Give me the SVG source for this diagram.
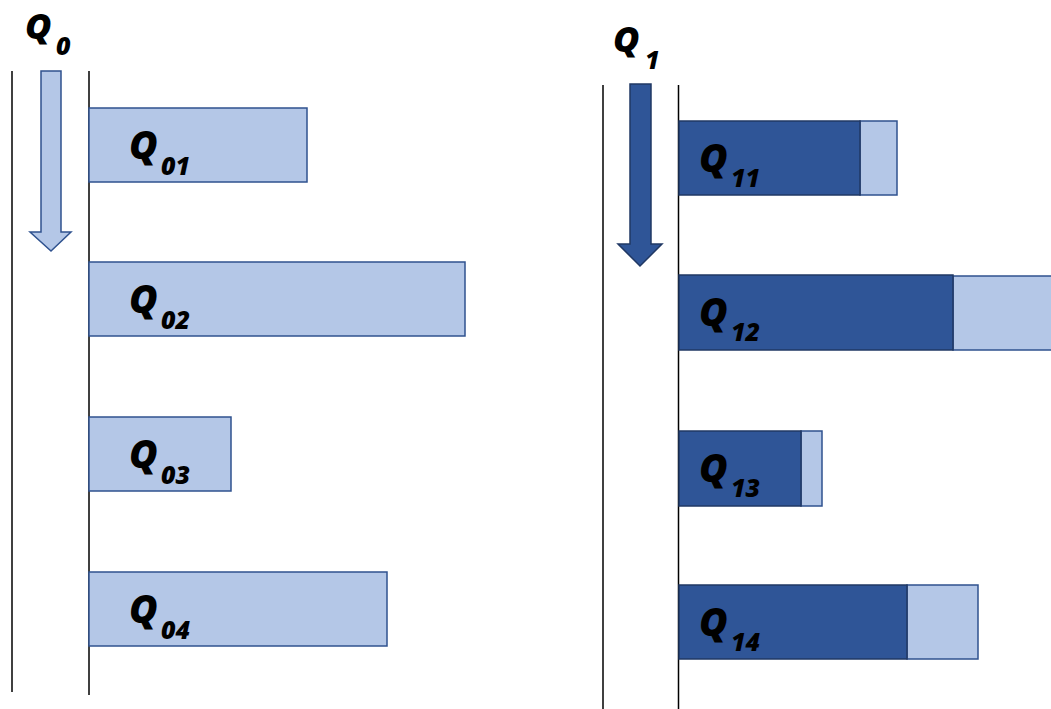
<svg xmlns="http://www.w3.org/2000/svg" width="1051" height="709" viewBox="0 0 1051 709">
<style>
.light{fill:#B4C7E7;stroke:#2F528F;stroke-width:1.5}
.dark{fill:#2F5597;stroke:#203864;stroke-width:1.5}
.axis{stroke:#000;stroke-width:1.5;fill:none}
.lbl{font-family:"Open Sans","Liberation Sans",Arial,sans-serif;font-weight:800;font-style:italic;font-size:39px;fill:#000}
.ttl{font-size:36px}
.sub{font-size:25px}
</style>
<rect width="1051" height="709" fill="#fff"/>
<g id="axes">
<line class="axis" x1="12" y1="71" x2="12" y2="692"/>
<line class="axis" x1="89" y1="71" x2="89" y2="695"/>
<line class="axis" x1="603" y1="85" x2="603" y2="709"/>
<line class="axis" x1="678.5" y1="85" x2="678.5" y2="709"/>
</g>
<g id="connectors">
<polygon class="light" points="41,71 61,71 61,232 71,232 51,251 30,232 41,232"/>
<polygon class="dark" points="630,84 651,84 651,244 662,244 640,266 618,244 630,244"/>
</g>
<g id="title-Q0"><text class="lbl ttl" x="25" y="39">Q<tspan class="sub" x="56" y="55">0</tspan></text></g>
<g id="title-Q1"><text class="lbl ttl" x="613" y="52">Q<tspan class="sub" x="645" y="69">1</tspan></text></g>
<g id="Q01"><rect class="light" x="89" y="108" width="218" height="74"/><text class="lbl" x="129" y="159">Q<tspan class="sub" x="161" y="175">01</tspan></text></g>
<g id="Q02"><rect class="light" x="89" y="262" width="376" height="74"/><text class="lbl" x="129" y="313">Q<tspan class="sub" x="161" y="329">02</tspan></text></g>
<g id="Q03"><rect class="light" x="89" y="417" width="142" height="74"/><text class="lbl" x="129" y="468">Q<tspan class="sub" x="161" y="484">03</tspan></text></g>
<g id="Q04"><rect class="light" x="89" y="572" width="298" height="74"/><text class="lbl" x="129" y="623">Q<tspan class="sub" x="161" y="639">04</tspan></text></g>
<g id="Q11"><rect class="light" x="860" y="121" width="37" height="74"/><rect class="dark" x="679" y="121" width="181" height="74"/><text class="lbl" x="699" y="172">Q<tspan class="sub" x="731" y="187">11</tspan></text></g>
<g id="Q12"><rect class="light" x="953" y="276" width="100" height="74"/><rect class="dark" x="679" y="275" width="274" height="75"/><text class="lbl" x="699" y="326">Q<tspan class="sub" x="731" y="341">12</tspan></text></g>
<g id="Q13"><rect class="light" x="801" y="431" width="21" height="75"/><rect class="dark" x="679" y="431" width="122" height="75"/><text class="lbl" x="699" y="482">Q<tspan class="sub" x="731" y="497">13</tspan></text></g>
<g id="Q14"><rect class="light" x="907" y="585" width="71" height="74"/><rect class="dark" x="679" y="585" width="228" height="74"/><text class="lbl" x="699" y="636">Q<tspan class="sub" x="731" y="651">14</tspan></text></g>
</svg>
